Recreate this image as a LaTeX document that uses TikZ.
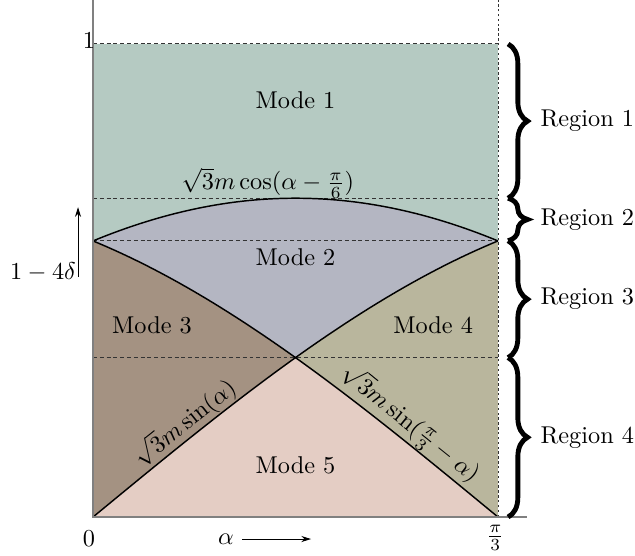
\documentclass[tikz,border=0pt]{standalone}
\usepackage{amsmath, amssymb}
\usepackage{tikz}
\usetikzlibrary{arrows.meta, decorations.pathreplacing}
\usepackage{xcolor}
\definecolor{modeA}{RGB}{181, 202, 194}
\definecolor{modeB}{RGB}{180, 182, 194}
\definecolor{modeC}{RGB}{164, 146, 130}
\definecolor{modeD}{RGB}{185, 182, 157}
\definecolor{modeE}{RGB}{228, 205, 196}
\def\km{0.674}

\begin{document}
\begin{tikzpicture}[x=0.0976cm, y=6.84cm,
    guide/.style={black!80, line width=0.4pt, dash pattern=on 1.6pt off 1.2pt},
    curve/.style={black, line width=0.6pt},
    regionbrace/.style={decorate, decoration={brace, amplitude=8pt}, line width=2pt},
    arr/.style={-{Stealth[length=4pt, width=2.5pt]}, line width=0.4pt}]
  \useasboundingbox (-13.78,-0.0803) rectangle (80.30,1.093);
  % mode areas
  \fill[modeA] (0,0) rectangle (60,1);
  \fill[modeB] plot[domain=0:60, samples=61] (\x, {\km*cos(\x-30)}) -- (60,0) -- (0,0) -- cycle;
  \fill[modeC] (0,0) -- plot[domain=0:30, samples=31] (\x, {\km*sin(60-\x)})
    -- plot[domain=30:0, samples=31] (\x, {\km*sin(\x)}) -- cycle;
  \fill[modeD] (60,0) -- plot[domain=60:30, samples=31] (\x, {\km*sin(\x)})
    -- plot[domain=30:60, samples=31] (\x, {\km*sin(60-\x)}) -- cycle;
  \fill[modeE] plot[domain=0:30, samples=31] (\x, {\km*sin(\x)})
    -- plot[domain=30:60, samples=31] (\x, {\km*sin(60-\x)}) -- cycle;
  % levels
  \foreach \lv in {1, 0.674, 0.584, 0.337}
    \draw[guide] (0,\lv) -- (60,\lv);
  \draw[black!80, line width=0.4pt, dash pattern=on 1pt off 1pt] (60,0) -- (60,1.093);
  % boundaries
  \draw[curve] plot[domain=0:60, samples=61] (\x, {\km*cos(\x-30)});
  \draw[curve] plot[domain=0:60, samples=61] (\x, {\km*sin(\x)});
  \draw[curve] plot[domain=0:60, samples=61] (\x, {\km*sin(60-\x)});
  % axes
  \draw[gray, line width=0.6pt] (0,1.093) -- (0,0) -- (64.3,0);
  \node[inner sep=0pt] (tickone) at (-0.6,1.008) {$1$};
  \node[inner sep=0pt] (tickzero) at (-0.6,-0.0465) {$0$};
  \node[inner sep=0pt] (tickpi) at (59.6,-0.044) {$\frac{\pi}{3}$};
  \node (alpha) at (19.7,-0.0465) {$\alpha$};
  \coordinate (alphaend) at (32.3,-0.0465);
  \draw[arr] (alpha) -- (alphaend);
  \node (delta) at (-7.4,0.518) {$1-4\delta$};
  \coordinate (deltabot) at (-2.22,0.507);
  \coordinate (deltatop) at (-2.22,0.655);
  \draw[arr] (deltabot) -- (deltatop);
  % modes
  \node (mode1) at (30,0.882) {Mode 1};
  \node (mode2) at (30,0.550) {Mode 2};
  \node (mode3) at (8.74,0.406) {Mode 3};
  \node (mode4) at (50.4,0.406) {Mode 4};
  \node (mode5) at (30,0.110) {Mode 5};
  % curve labels
  \node (lblcos) at (25.9,0.706) {$\sqrt{3}m\cos(\alpha-\frac{\pi}{6})$};
  \node[anchor=south, inner sep=0.3pt, rotate=38.5] (lblsinl) at (15,{\km*sin(15)}) {$\sqrt{3}m\sin(\alpha)$};
  \node[anchor=south, inner sep=0.3pt, rotate=-38.8] (lblsinr) at (45.5,{\km*sin(14.5)}) {$\sqrt{3}m\sin(\frac{\pi}{3}-\alpha)$};
  % regions
  \draw[regionbrace] (61.5,1) -- (61.5,0.674) node[midway, right=9pt] (reg1) {Region 1};
  \draw[regionbrace] (61.5,0.674) -- (61.5,0.584) node[midway, right=9pt] (reg2) {Region 2};
  \draw[regionbrace] (61.5,0.584) -- (61.5,0.337) node[midway, right=9pt] (reg3) {Region 3};
  \draw[regionbrace] (61.5,0.337) -- (61.5,0) node[midway, right=9pt] (reg4) {Region 4};
\end{tikzpicture}
\end{document}
